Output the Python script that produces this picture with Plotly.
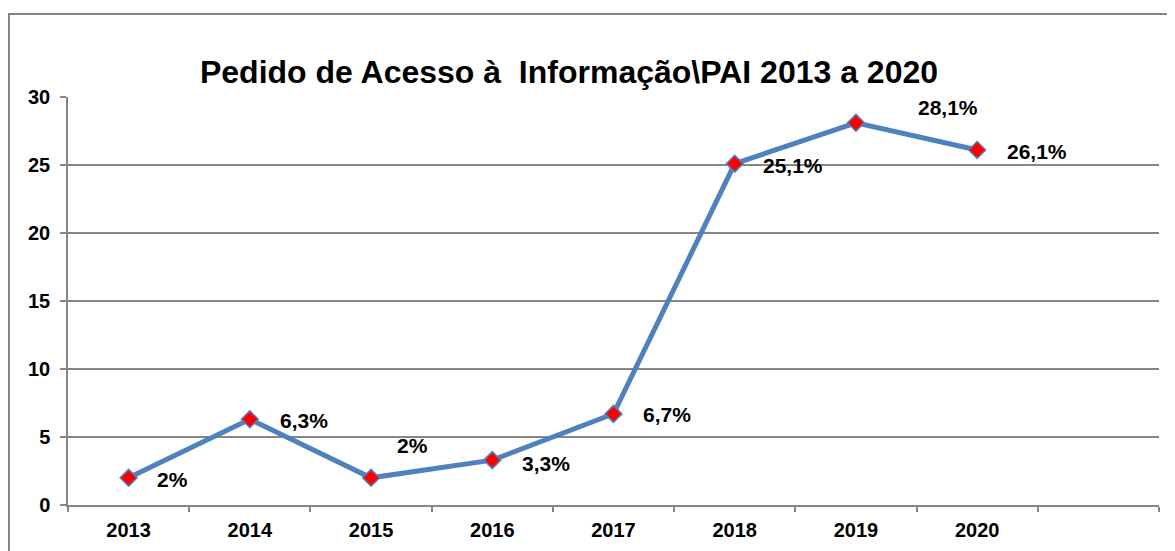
import plotly.graph_objects as go

years = ["2013", "2014", "2015", "2016", "2017", "2018", "2019", "2020"]
values = [2, 6.3, 2, 3.3, 6.7, 25.1, 28.1, 26.1]
labels = ["2%", "6,3%", "2%", "3,3%", "6,7%", "25,1%", "28,1%", "26,1%"]
# label offsets in px (xshift, yshift)
label_shift = [(26, -2), (28, -1), (24, 32), (28, -3), (27, -1), (26, -2), (60, 15), (28, -1)]

xs = list(range(len(years)))
FONT = "Liberation Sans, Arial, sans-serif"
GRID = "#868686"

W, H = 1167, 543  # page body has an 8px margin

fig = go.Figure()
fig.add_trace(go.Scatter(
    x=xs, y=values, mode="lines+markers",
    line=dict(color="#4F81BD", width=5),
    marker=dict(symbol="diamond", size=13, color="#FF0000",
                line=dict(color="#4F81BD", width=1.5)),
    hoverinfo="skip", showlegend=False,
))

for x, v, t, (dx, dy) in zip(xs, values, labels, label_shift):
    fig.add_annotation(x=x, y=v, text="<b>%s</b>" % t, showarrow=False,
                       xanchor="left", yanchor="middle", xshift=dx, yshift=dy,
                       font=dict(family=FONT, size=21, color="#000000"))

fig.add_shape(type="rect", xref="paper", yref="paper",
              x0=-0.0541, x1=1.03, y0=-0.2, y1=1.2034,
              line=dict(color="#868686", width=2), fillcolor="rgba(0,0,0,0)", layer="below")

fig.update_layout(
    width=W, height=H,
    margin=dict(l=60, r=16, t=89, b=46, autoexpand=False),
    paper_bgcolor="white", plot_bgcolor="white",
    title=dict(text="<b>Pedido de Acesso à  Informação\\PAI 2013 a 2020</b>",
               x=561 / W, xanchor="center", y=1 - 64 / H, yanchor="middle",
               font=dict(family=FONT, size=32, color="#000000")),
    xaxis=dict(range=[-0.5, 8.5], tickmode="array", tickvals=xs, ticktext=years,
               ticks="", showgrid=False, zeroline=False, automargin=False,
               showline=True, linecolor=GRID, linewidth=1.5,
               tickfont=dict(family=FONT, size=20, color="#000000", weight="bold"),
               ticklabelstandoff=6,
               minor=dict(tickmode="array", tickvals=[i - 0.5 for i in range(10)],
                          ticks="outside", ticklen=5, tickcolor=GRID, tickwidth=1.5,
                          showgrid=False)),
    yaxis=dict(range=[0, 30], tickmode="array", tickvals=[0, 5, 10, 15, 20, 25, 30],
               ticks="outside", ticklen=6, tickcolor=GRID, tickwidth=1.5,
               showgrid=True, gridcolor=GRID, gridwidth=1.5, zeroline=False,
               automargin=False,
               showline=True, linecolor=GRID, linewidth=1.5,
               tickfont=dict(family=FONT, size=20, color="#000000", weight="bold"),
               ticklabelstandoff=6),
)

fig.write_html("out.html")
